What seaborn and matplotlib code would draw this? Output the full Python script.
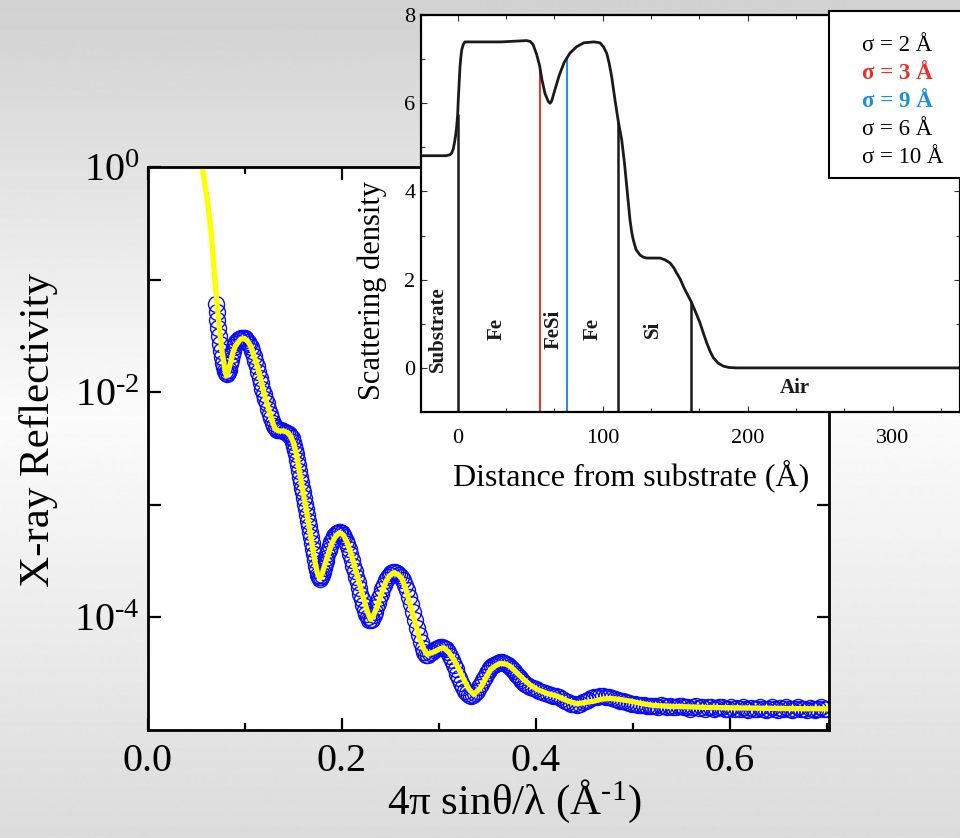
import numpy as np
import matplotlib
matplotlib.use("Agg")
import matplotlib.pyplot as plt
import seaborn as sns
from matplotlib.patches import Rectangle
from matplotlib.ticker import FixedLocator, FixedFormatter, NullLocator, MultipleLocator

# ---------------- data: reflectivity (main panel) ----------------
# measured points (q in 1/Angstrom, log10 of reflectivity)
q_data = [
    0.0700, 0.0708, 0.0716, 0.0724, 0.0732, 0.0741, 0.0750, 0.0760, 0.0770, 0.0780,
    0.0790, 0.0800, 0.0810, 0.0820, 0.0830, 0.0842, 0.0852, 0.0862, 0.0872, 0.0884,
    0.0896, 0.0910, 0.0925, 0.0940, 0.0955, 0.0970, 0.0985, 0.1000, 0.1015, 0.1030,
    0.1045, 0.1060, 0.1075, 0.1090, 0.1105, 0.1120, 0.1135, 0.1150, 0.1165, 0.1180,
    0.1195, 0.1210, 0.1225, 0.1240, 0.1255, 0.1270, 0.1285, 0.1300, 0.1315, 0.1330,
    0.1350, 0.1370, 0.1390, 0.1410, 0.1430, 0.1450, 0.1465, 0.1480, 0.1495, 0.1510,
    0.1520, 0.1530, 0.1540, 0.1550, 0.1560, 0.1570, 0.1580, 0.1590, 0.1600, 0.1610,
    0.1620, 0.1630, 0.1640, 0.1650, 0.1660, 0.1670, 0.1680, 0.1690, 0.1700, 0.1710,
    0.1720, 0.1730, 0.1740, 0.1750, 0.1760, 0.1770, 0.1780, 0.1790, 0.1800, 0.1810,
    0.1820, 0.1830, 0.1840, 0.1850, 0.1862, 0.1875, 0.1890, 0.1905, 0.1920, 0.1935,
    0.1950, 0.1965, 0.1980, 0.1995, 0.2010, 0.2025, 0.2040, 0.2055, 0.2070, 0.2085,
    0.2100, 0.2115, 0.2130, 0.2145, 0.2160, 0.2175, 0.2190, 0.2205, 0.2220, 0.2235,
    0.2250, 0.2265, 0.2280, 0.2295, 0.2310, 0.2325, 0.2340, 0.2355, 0.2370, 0.2385,
    0.2400, 0.2415, 0.2430, 0.2450, 0.2470, 0.2490, 0.2510, 0.2530, 0.2550, 0.2570,
    0.2590, 0.2610, 0.2630, 0.2650, 0.2670, 0.2690, 0.2710, 0.2730, 0.2750, 0.2770,
    0.2790, 0.2810, 0.2830, 0.2850, 0.2870, 0.2890, 0.2910, 0.2930, 0.2950, 0.2970,
    0.2990, 0.3010, 0.3030, 0.3050, 0.3070, 0.3090, 0.3110, 0.3130, 0.3150, 0.3170,
    0.3190, 0.3210, 0.3230, 0.3250, 0.3270, 0.3290, 0.3310, 0.3330, 0.3350, 0.3370,
    0.3390, 0.3410, 0.3430, 0.3450, 0.3470, 0.3490, 0.3510, 0.3530, 0.3550, 0.3570,
    0.3590, 0.3610, 0.3630, 0.3650, 0.3670, 0.3690, 0.3710, 0.3730, 0.3750, 0.3770,
    0.3790, 0.3810, 0.3830, 0.3850, 0.3870, 0.3890, 0.3910, 0.3940, 0.3970, 0.4000,
    0.4030, 0.4060, 0.4090, 0.4120, 0.4150, 0.4180, 0.4210, 0.4240, 0.4270, 0.4300,
    0.4330, 0.4360, 0.4390, 0.4420, 0.4450, 0.4480, 0.4510, 0.4540, 0.4570, 0.4600,
    0.4630, 0.4660, 0.4690, 0.4720, 0.4750, 0.4780, 0.4810, 0.4840, 0.4870, 0.4900,
    0.4930, 0.4960, 0.4990, 0.5020, 0.5050, 0.5080, 0.5110, 0.5140, 0.5170, 0.5200,
    0.5230, 0.5260, 0.5290, 0.5320, 0.5350, 0.5380, 0.5410, 0.5440, 0.5470, 0.5500,
    0.5530, 0.5560, 0.5590, 0.5620, 0.5650, 0.5680, 0.5710, 0.5740, 0.5770, 0.5800,
    0.5830, 0.5860, 0.5890, 0.5920, 0.5950, 0.5980, 0.6010, 0.6040, 0.6070, 0.6100,
    0.6130, 0.6160, 0.6190, 0.6220, 0.6250, 0.6280, 0.6310, 0.6340, 0.6370, 0.6400,
    0.6430, 0.6460, 0.6490, 0.6520, 0.6550, 0.6580, 0.6610, 0.6640, 0.6670, 0.6700,
    0.6730, 0.6760, 0.6790, 0.6820, 0.6850, 0.6880, 0.6910, 0.6940, 0.6970, 0.7000,
]
logR_data = [
    -1.220, -1.290, -1.360, -1.430, -1.500, -1.570, -1.630, -1.690, -1.740, -1.780,
    -1.810, -1.830, -1.840, -1.825, -1.800, -1.750, -1.710, -1.670, -1.630, -1.600,
    -1.575, -1.550, -1.535, -1.525, -1.520, -1.515, -1.515, -1.520, -1.535, -1.555,
    -1.575, -1.600, -1.635, -1.675, -1.720, -1.770, -1.820, -1.870, -1.920, -1.970,
    -2.020, -2.060, -2.100, -2.150, -2.190, -2.230, -2.270, -2.300, -2.320, -2.335,
    -2.340, -2.340, -2.345, -2.350, -2.360, -2.370, -2.390, -2.410, -2.440, -2.480,
    -2.510, -2.550, -2.600, -2.650, -2.700, -2.750, -2.800, -2.850, -2.890, -2.940,
    -2.990, -3.040, -3.090, -3.140, -3.190, -3.240, -3.290, -3.340, -3.390, -3.440,
    -3.490, -3.540, -3.580, -3.620, -3.645, -3.655, -3.645, -3.625, -3.600, -3.560,
    -3.530, -3.500, -3.470, -3.440, -3.400, -3.370, -3.330, -3.300, -3.280, -3.260,
    -3.250, -3.245, -3.245, -3.250, -3.270, -3.290, -3.320, -3.350, -3.390, -3.440,
    -3.490, -3.540, -3.590, -3.640, -3.690, -3.740, -3.790, -3.840, -3.890, -3.930,
    -3.970, -4.000, -4.020, -4.025, -4.010, -3.980, -3.950, -3.910, -3.870, -3.830,
    -3.790, -3.750, -3.710, -3.670, -3.640, -3.620, -3.605, -3.600, -3.600, -3.605,
    -3.620, -3.640, -3.670, -3.710, -3.760, -3.820, -3.880, -3.950, -4.020, -4.090,
    -4.160, -4.220, -4.270, -4.310, -4.330, -4.335, -4.320, -4.305, -4.290, -4.280,
    -4.270, -4.265, -4.265, -4.270, -4.285, -4.310, -4.340, -4.380, -4.420, -4.460,
    -4.500, -4.540, -4.580, -4.620, -4.650, -4.675, -4.690, -4.695, -4.690, -4.675,
    -4.650, -4.620, -4.590, -4.555, -4.525, -4.495, -4.470, -4.450, -4.430, -4.420,
    -4.410, -4.405, -4.400, -4.400, -4.405, -4.415, -4.425, -4.440, -4.455, -4.475,
    -4.500, -4.520, -4.540, -4.560, -4.575, -4.590, -4.600, -4.615, -4.630, -4.640,
    -4.655, -4.665, -4.675, -4.680, -4.690, -4.695, -4.700, -4.710, -4.725, -4.740,
    -4.755, -4.765, -4.770, -4.775, -4.765, -4.755, -4.745, -4.730, -4.720, -4.710,
    -4.705, -4.700, -4.700, -4.705, -4.710, -4.715, -4.725, -4.730, -4.740, -4.745,
    -4.750, -4.760, -4.765, -4.770, -4.775, -4.780, -4.780, -4.785, -4.790, -4.785,
    -4.790, -4.795, -4.780, -4.790, -4.800, -4.785, -4.795, -4.800, -4.790, -4.785,
    -4.800, -4.795, -4.810, -4.800, -4.790, -4.805, -4.800, -4.810, -4.795, -4.800,
    -4.810, -4.805, -4.800, -4.795, -4.810, -4.815, -4.800, -4.810, -4.805, -4.815,
    -4.800, -4.810, -4.820, -4.805, -4.810, -4.815, -4.800, -4.810, -4.820, -4.810,
    -4.800, -4.815, -4.820, -4.805, -4.810, -4.800, -4.815, -4.820, -4.810, -4.800,
    -4.815, -4.810, -4.820, -4.805, -4.810, -4.820, -4.810, -4.800, -4.815, -4.810,
]
# fitted curve
q_fit = [
    0.0552, 0.0559, 0.0582, 0.0610, 0.0630, 0.0651, 0.0679, 0.0706, 0.0740, 0.0760,
    0.0781, 0.0795, 0.0809, 0.0825, 0.0851, 0.0875, 0.0902, 0.0954, 0.0995, 0.1030,
    0.1057, 0.1090, 0.1126, 0.1160, 0.1194, 0.1230, 0.1263, 0.1290, 0.1314, 0.1350,
    0.1400, 0.1440, 0.1469, 0.1500, 0.1530, 0.1560, 0.1600, 0.1641, 0.1670, 0.1693,
    0.1720, 0.1744, 0.1771, 0.1800, 0.1830, 0.1865, 0.1899, 0.1940, 0.1977, 0.2015,
    0.2054, 0.2095, 0.2139, 0.2180, 0.2225, 0.2262, 0.2294, 0.2325, 0.2363, 0.2405,
    0.2448, 0.2490, 0.2534, 0.2580, 0.2621, 0.2665, 0.2706, 0.2750, 0.2792, 0.2835,
    0.2878, 0.2920, 0.2964, 0.3005, 0.3049, 0.3100, 0.3153, 0.3205, 0.3256, 0.3310,
    0.3359, 0.3428, 0.3462, 0.3500, 0.3531, 0.3582, 0.3634, 0.3690, 0.3737, 0.3800,
    0.3874, 0.3940, 0.4012, 0.4110, 0.4219, 0.4320, 0.4425, 0.4510, 0.4596, 0.4680,
    0.4768, 0.4870, 0.4974, 0.5090, 0.5215, 0.5380, 0.5559, 0.5780, 0.6005, 0.6260,
    0.6520, 0.6770, 0.7020,
]
logR_fit = [
    0.030, 0.010, -0.130, -0.284, -0.430, -0.580, -0.877, -1.173, -1.470, -1.620,
    -1.736, -1.810, -1.855, -1.820, -1.736, -1.650, -1.588, -1.529, -1.523, -1.550,
    -1.588, -1.670, -1.766, -1.880, -2.003, -2.110, -2.210, -2.280, -2.330, -2.345,
    -2.344, -2.360, -2.389, -2.450, -2.550, -2.700, -2.890, -3.090, -3.240, -3.360,
    -3.500, -3.600, -3.655, -3.600, -3.514, -3.420, -3.336, -3.270, -3.247, -3.270,
    -3.336, -3.440, -3.573, -3.700, -3.840, -3.950, -4.018, -3.980, -3.900, -3.790,
    -3.692, -3.630, -3.603, -3.620, -3.662, -3.770, -3.900, -4.030, -4.166, -4.270,
    -4.329, -4.315, -4.300, -4.280, -4.270, -4.310, -4.373, -4.460, -4.551, -4.640,
    -4.684, -4.625, -4.570, -4.510, -4.465, -4.430, -4.407, -4.415, -4.437, -4.490,
    -4.551, -4.600, -4.640, -4.675, -4.700, -4.740, -4.767, -4.755, -4.744, -4.725,
    -4.720, -4.730, -4.744, -4.765, -4.782, -4.790, -4.794, -4.800, -4.803, -4.806,
    -4.809, -4.811, -4.812,
]
x_ticks_main = [0.0, 0.2, 0.4, 0.6]
x_tick_labels_main = ["0.0", "0.2", "0.4", "0.6"]
y_decades = [1e0, 1e-1, 1e-2, 1e-3, 1e-4]
y_decade_labels = [r"$\mathregular{10^{0}}$", "", r"$\mathregular{10^{‐2}}$", "",
                   r"$\mathregular{10^{‐4}}$"]

# ---------------- data: scattering-density profile (inset) ----------------
depth = [-25.3, -8.0, -5.5, -4.1, -3.0, -2.3, -1.5, -0.7, 0.0, 0.4,
         1.0, 1.6, 2.2, 2.8, 3.8, 5.0, 13.1, 30.0, 47.6, 50.0,
         52.0, 54.5, 56.5, 58.0, 60.2, 62.5, 63.7, 64.8, 67.0, 70.0,
         73.5, 77.5, 82.0, 87.0, 94.0, 98.1, 100.5, 102.8, 104.5, 106.2,
         108.5, 110.8, 113.1, 115.0, 116.6, 118.8, 120.0, 121.1, 123.0, 125.7,
         128.0, 130.3, 139.5, 143.0, 146.4, 149.0, 151.0, 153.5, 155.6, 158.0,
         160.9, 164.0, 167.1, 169.5, 171.7, 174.0, 176.3, 179.5, 183.2, 187.0,
         192.4, 256.8, 346.4]
density = [4.81, 4.81, 4.83, 4.87, 4.97, 5.09, 5.25, 5.47, 5.75, 6.07,
           6.45, 6.83, 7.05, 7.21, 7.33, 7.39, 7.39, 7.39, 7.42, 7.40,
           7.33, 7.10, 6.85, 6.55, 6.22, 6.04, 6.00, 6.05, 6.30, 6.63,
           6.93, 7.14, 7.28, 7.37, 7.39, 7.37, 7.28, 7.13, 6.90, 6.60,
           6.07, 5.58, 5.17, 4.65, 4.11, 3.36, 3.08, 2.90, 2.68, 2.56,
           2.51, 2.49, 2.49, 2.45, 2.38, 2.27, 2.15, 2.01, 1.85, 1.69,
           1.51, 1.27, 1.02, 0.78, 0.57, 0.38, 0.23, 0.11, 0.04, 0.01,
           0.00, 0.00, 0.00]
interface_pos = [0.0, 56.8, 75.4, 110.8, 160.9]
interface_top = [5.75, 6.80, 7.04, 5.58, 1.51]
interface_colors = ["#1a1a1a", "#e8302a", "#1a8fe0", "#1a1a1a", "#1a1a1a"]
layer_names = ["Substrate", "Fe", "FeSi", "Fe", "Si"]
layer_label_x = [-13.6, 27.1, 66.4, 93.3, 134.7]
sigma_labels = ["σ = 2 Å", "σ = 3 Å", "σ = 9 Å", "σ = 6 Å", "σ = 10 Å"]
sigma_colors = ["black", "#e8302a", "#1a8fe0", "black", "black"]
sigma_weights = ["normal", "bold", "bold", "normal", "normal"]
inset_xticks = [0, 100, 200, 300]
inset_yticks = [0, 2, 4, 6, 8]

# ---------------- style ----------------
sns.set_theme(style="ticks")
plt.rcParams["font.family"] = ["Liberation Serif", "DejaVu Serif"]
plt.rcParams["mathtext.fontset"] = "custom"
plt.rcParams["mathtext.rm"] = "Liberation Serif"
plt.rcParams["mathtext.it"] = "Liberation Serif:italic"
plt.rcParams["mathtext.bf"] = "Liberation Serif:bold"

W, H = 960, 838
fig = plt.figure(figsize=(W / 100, H / 100), dpi=100)

# background gradient
bg = fig.add_axes([0, 0, 1, 1], zorder=-10)
rows = np.linspace(0, 1, H)
shade = np.interp(rows, [0.0, 0.5, 1.0], [0.82, 0.985, 0.86])
bg.imshow(shade[:, None], aspect="auto", cmap="gray", vmin=0, vmax=1,
          extent=[0, 1, 0, 1], origin="upper")
bg.axis("off")

# ---------------- main axes ----------------
ax = fig.add_axes([148 / W, 1 - 730 / H, 681 / W, 563 / H])
ax.set_facecolor("white")
ax.set_yscale("log")
R_data = [10 ** v for v in logR_data]
R_fit = [10 ** v for v in logR_fit]
sns.lineplot(x=q_data, y=R_data, ax=ax, estimator=None, sort=False,
             linestyle="", marker="o", markersize=11.5, markerfacecolor="none",
             markeredgecolor="#0a0aff", markeredgewidth=1.0, color="#0a0aff")
sns.lineplot(x=q_fit, y=R_fit, ax=ax, estimator=None, sort=False,
             color="#ffff00", linewidth=3.8)
ax.set_xlim(0, 0.702)
ax.set_ylim(1e-5, 1)
ax.set_xticks(x_ticks_main)
ax.set_xticklabels(x_tick_labels_main)
ax.xaxis.set_minor_locator(FixedLocator([0.1, 0.3, 0.5, 0.7]))
ax.yaxis.set_major_locator(FixedLocator(y_decades))
ax.yaxis.set_major_formatter(FixedFormatter(y_decade_labels))
ax.yaxis.set_minor_locator(NullLocator())
for s in ax.spines.values():
    s.set_linewidth(2.0)
    s.set_color("black")
    s.set_visible(True)
ax.tick_params(axis="both", which="both", direction="in", top=True, right=True,
               width=1.6, color="black", labelcolor="black")
ax.tick_params(which="major", length=9)
ax.tick_params(which="minor", length=5)
ax.tick_params(axis="x", which="major", labelsize=29, pad=9)
ax.tick_params(axis="y", which="major", labelsize=29, pad=6)
ax.set_xlabel("4π sinθ/λ (Å$^{\\mathregular{‐1}}$)", fontsize=31, color="black")
ax.set_ylabel("X-ray Reflectivity", fontsize=31, color="black")
ax.xaxis.set_label_coords(0.537, -0.085)
ax.yaxis.set_label_coords(-0.132, 0.533)

# ---------------- inset ----------------
ins = fig.add_axes([421 / W, 1 - 412 / H, 539 / W, 397 / H])
ins.set_facecolor("white")
sns.lineplot(x=depth, y=density, ax=ins, estimator=None, sort=False,
             color="#1a1a1a", linewidth=2.0)
ins.vlines(interface_pos, -1, interface_top, colors=interface_colors,
           linewidths=[1.8, 1.4, 1.4, 1.8, 1.8], zorder=1)
ins.set_xlim(-25.3, 346.4)
ins.set_ylim(-1, 8)
ins.set_xticks(inset_xticks)
ins.set_yticks(inset_yticks)
ins.xaxis.set_minor_locator(MultipleLocator(100 / 3))
ins.yaxis.set_minor_locator(MultipleLocator(1))
for s in ins.spines.values():
    s.set_linewidth(1.6)
    s.set_color("black")
    s.set_visible(True)
ins.tick_params(axis="both", which="both", direction="in", top=True, right=True,
                width=0.8, color="#333333", labelcolor="black")
ins.tick_params(which="major", length=4)
ins.tick_params(which="minor", length=3)
ins.tick_params(axis="x", which="major", labelsize=16, pad=12)
ins.tick_params(axis="y", which="major", labelsize=16, pad=4)
ins.set_xlabel("Distance from substrate (Å)", fontsize=23, color="black")
ins.set_ylabel("Scattering density", fontsize=22, color="black")
ins.xaxis.set_label_coords(0.39, -0.12)
ins.yaxis.set_label_coords(-0.063, 0.305)

for name, lx in zip(layer_names, layer_label_x):
    ins.text(lx, 0.88, name, rotation=90, ha="center", va="center",
             fontsize=15, fontweight="bold", color="#1a1a1a")
ins.text(232.8, -0.45, "Air", ha="center", va="center", fontsize=15,
         fontweight="bold", color="#1a1a1a")

# sigma key box
ins.add_patch(Rectangle((0.757, 0.589), 0.4, 0.42, transform=ins.transAxes,
                        facecolor="white", edgecolor="black", linewidth=1.5,
                        clip_on=False, zorder=5))
for i, (lab, col, wt) in enumerate(zip(sigma_labels, sigma_colors, sigma_weights)):
    ins.text(0.818, 0.923 - i * 0.0705, lab, transform=ins.transAxes,
             ha="left", va="center", fontsize=16.5, color=col, fontweight=wt,
             zorder=6)

fig.savefig("out.png", dpi=100)
